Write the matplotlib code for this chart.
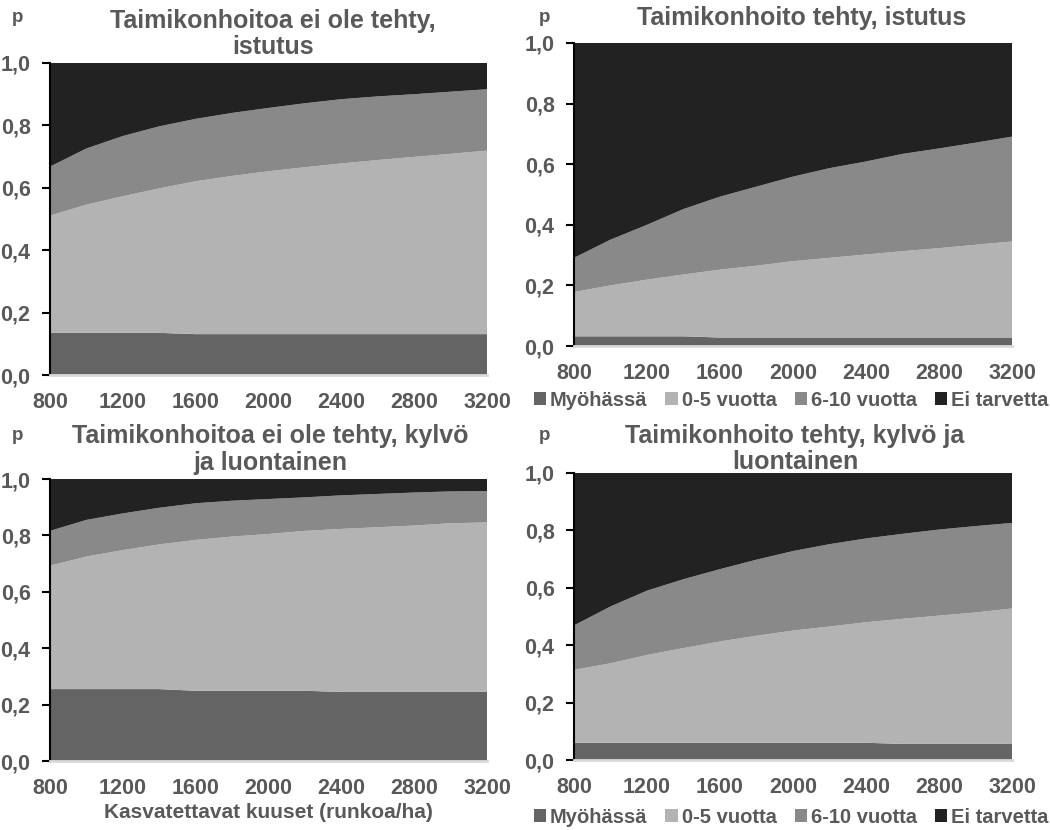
import numpy as np
import matplotlib
matplotlib.use("Agg")
import matplotlib.pyplot as plt

plt.rcParams['font.family'] = ['Liberation Sans', 'DejaVu Sans']
plt.rcParams['font.weight'] = 'bold'

TEXT = "#595959"

kuuset = [800, 1000, 1200, 1400, 1600, 1800, 2000, 2200, 2400, 2600, 2800, 3000, 3200]
luokat = ["Myöhässä", "0-5 vuotta", "6-10 vuotta", "Ei tarvetta"]
varit = ["#646464", "#b3b3b3", "#898989", "#222222"]

# Taimikonhoitoa ei ole tehty, istutus
a_myo = [0.135, 0.135, 0.135, 0.135, 0.131, 0.131, 0.131, 0.131, 0.131, 0.131, 0.131, 0.131, 0.131]
a_05 = [0.376, 0.411, 0.438, 0.463, 0.490, 0.507, 0.522, 0.535, 0.547, 0.558, 0.568, 0.578, 0.588]
a_610 = [0.157, 0.180, 0.193, 0.199, 0.200, 0.202, 0.203, 0.205, 0.206, 0.204, 0.201, 0.199, 0.197]
a_ei = [0.332, 0.274, 0.234, 0.203, 0.179, 0.160, 0.144, 0.129, 0.116, 0.107, 0.100, 0.092, 0.084]

# Taimikonhoito tehty, istutus
b_myo = [0.032, 0.032, 0.032, 0.032, 0.028, 0.028, 0.028, 0.028, 0.028, 0.028, 0.028, 0.028, 0.028]
b_05 = [0.146, 0.168, 0.187, 0.204, 0.224, 0.237, 0.252, 0.263, 0.274, 0.285, 0.295, 0.306, 0.317]
b_610 = [0.113, 0.151, 0.181, 0.216, 0.241, 0.261, 0.279, 0.296, 0.307, 0.321, 0.329, 0.337, 0.346]
b_ei = [0.709, 0.649, 0.600, 0.548, 0.507, 0.474, 0.441, 0.413, 0.391, 0.366, 0.348, 0.329, 0.309]

# Taimikonhoitoa ei ole tehty, kylvö ja luontainen
c_myo = [0.255, 0.255, 0.255, 0.255, 0.249, 0.249, 0.249, 0.249, 0.245, 0.245, 0.245, 0.245, 0.245]
c_05 = [0.438, 0.470, 0.493, 0.513, 0.535, 0.547, 0.556, 0.567, 0.578, 0.584, 0.590, 0.598, 0.601]
c_610 = [0.123, 0.130, 0.130, 0.130, 0.130, 0.127, 0.124, 0.119, 0.119, 0.118, 0.117, 0.113, 0.111]
c_ei = [0.184, 0.145, 0.122, 0.102, 0.086, 0.077, 0.071, 0.065, 0.058, 0.053, 0.048, 0.044, 0.043]

# Taimikonhoito tehty, kylvö ja luontainen
d_myo = [0.060, 0.060, 0.060, 0.060, 0.060, 0.060, 0.060, 0.060, 0.060, 0.056, 0.056, 0.056, 0.056]
d_05 = [0.254, 0.277, 0.306, 0.330, 0.353, 0.373, 0.391, 0.405, 0.420, 0.436, 0.447, 0.458, 0.472]
d_610 = [0.155, 0.198, 0.224, 0.240, 0.252, 0.265, 0.277, 0.287, 0.292, 0.296, 0.300, 0.301, 0.298]
d_ei = [0.531, 0.465, 0.410, 0.370, 0.335, 0.302, 0.272, 0.248, 0.228, 0.212, 0.197, 0.185, 0.174]

W, H = 1050, 830
fig = plt.figure(figsize=(W / 100, H / 100), dpi=100)


def px_axes(left, top, right, bottom):
    return fig.add_axes([left / W, 1 - bottom / H, (right - left) / W, (bottom - top) / H])


def panel(ax, sarjat):
    polys = ax.stackplot(kuuset, *sarjat, colors=varit, labels=luokat, linewidth=0)
    ax.set_xlim(800, 3200)
    ax.set_ylim(0, 1)
    ax.set_xticks(np.arange(800, 3201, 400))
    ax.set_yticks(np.arange(0, 1.01, 0.2))
    ax.set_yticklabels([f"{v:.1f}".replace(".", ",") for v in np.arange(0, 1.01, 0.2)])
    for s in ["top", "right"]:
        ax.spines[s].set_visible(False)
    ax.spines["left"].set_color("black")
    ax.spines["left"].set_linewidth(1.5)
    ax.spines["bottom"].set_color("#d9d9d9")
    ax.spines["bottom"].set_linewidth(2)
    ax.tick_params(axis="y", length=6, width=1.5, color="black", pad=8,
                   labelsize=15.5, labelcolor=TEXT)
    ax.tick_params(axis="x", length=0, pad=12, labelsize=15.5, labelcolor=TEXT)
    return polys


ax1 = px_axes(50, 63, 487, 375)
ax2 = px_axes(574, 43, 1012, 346)
ax3 = px_axes(50, 479, 487, 761)
ax4 = px_axes(574, 473, 1012, 760)

panel(ax1, [a_myo, a_05, a_610, a_ei])
p2 = panel(ax2, [b_myo, b_05, b_610, b_ei])
panel(ax3, [c_myo, c_05, c_610, c_ei])
p4 = panel(ax4, [d_myo, d_05, d_610, d_ei])

tkw = dict(fontsize=18, color=TEXT, ha="center", va="center", fontweight="bold")
fig.text(273 / W, 1 - 21 / H, "Taimikonhoitoa ei ole tehty,", **tkw)
fig.text(273 / W, 1 - 47 / H, "istutus", **tkw)
fig.text(802 / W, 1 - 18 / H, "Taimikonhoito tehty, istutus", **tkw)
fig.text(270 / W, 1 - 436 / H, "Taimikonhoitoa ei ole tehty, kylvö", **tkw)
fig.text(270 / W, 1 - 463 / H, "ja luontainen", **tkw)
fig.text(795 / W, 1 - 436 / H, "Taimikonhoito tehty, kylvö ja", **tkw)
fig.text(795 / W, 1 - 462 / H, "luontainen", **tkw)

pkw = dict(fontsize=13.5, color=TEXT, ha="center", va="center", fontweight="bold")
for x, y in [(18, 17), (545, 17), (18, 435), (545, 435)]:
    fig.text(x / W, 1 - y / H, "p", **pkw)

fig.text(268 / W, 1 - 812 / H, "Kasvatettavat kuuset (runkoa/ha)", fontsize=15,
         color=TEXT, ha="center", va="center", fontweight="bold")

lkw = dict(loc="center", ncol=4, frameon=False, fontsize=14.5, handlelength=0.6,
           handleheight=0.6, handletextpad=0.2, columnspacing=0.9, labelcolor=TEXT)
fig.legend(p2, luokat, bbox_to_anchor=(791 / W, 1 - 400 / H), **lkw)
fig.legend(p4, luokat, bbox_to_anchor=(791 / W, 1 - 817 / H), **lkw)

fig.savefig("out.png", dpi=100)
